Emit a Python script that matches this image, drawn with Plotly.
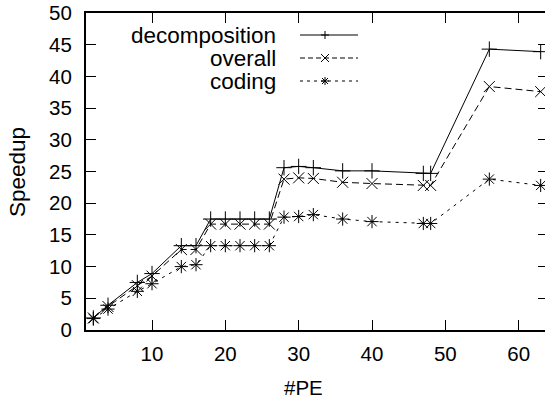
import plotly.graph_objects as go

pe = [2, 4, 8, 10, 14, 16, 18, 20, 22, 24, 26, 28, 30, 32, 36, 40, 47, 48, 56, 63]
decomposition = [1.9, 3.9, 7.5, 8.9, 13.3, 13.3, 17.5, 17.5, 17.5, 17.5, 17.5,
                 25.6, 25.8, 25.6, 25.1, 25.1, 24.7, 24.7, 44.3, 43.9]
overall = [1.9, 3.7, 7.0, 8.5, 12.7, 12.7, 16.7, 16.7, 16.7, 16.7, 16.7,
           23.8, 24.0, 23.9, 23.3, 23.1, 22.8, 22.8, 38.4, 37.6]
coding = [1.8, 3.3, 6.1, 7.3, 10.0, 10.3, 13.3, 13.3, 13.3, 13.3, 13.3,
          17.8, 17.9, 18.2, 17.5, 17.1, 16.8, 16.8, 23.8, 22.8]
series_names = ["decomposition", "overall", "coding"]
x_ticks = [10, 20, 30, 40, 50, 60]
y_ticks = [0, 5, 10, 15, 20, 25, 30, 35, 40, 45, 50]

W, H = 545, 400
L, R, T, B = 86, 0, 13, 70
PW, PH = W - L - R, H - T - B
FAMILY = "Liberation Sans, Arial, Helvetica, sans-serif"
FONT = dict(family=FAMILY, size=20.5, color="black")
TEXT_FONT = dict(family=FAMILY, size=22.5, color="black")


def px(x):
    return (x - L) / PW


def py(y):
    return (H - B - y) / PH


styles = [
    dict(dash="solid", key_dash="solid", symbol="cross-thin-open", size=11),
    dict(dash="7px,4px", key_dash="5px,3px", symbol="x-thin-open", size=11),
    dict(dash="3px,5px", key_dash="3px,4px", symbol="asterisk-open", size=11),
]

fig = go.Figure()
for name, vals, st in zip(series_names, [decomposition, overall, coding], styles):
    fig.add_trace(go.Scatter(
        x=pe, y=vals, name=name, mode="lines+markers",
        line=dict(color="black", width=1, dash=st["dash"]),
        marker=dict(symbol=st["symbol"], size=st["size"], color="black",
                    line=dict(color="black", width=1)),
        showlegend=False,
    ))

# dummy trace to get right-side mirror ticks without a border line
fig.add_trace(go.Scatter(x=[None], y=[None], yaxis="y2", showlegend=False, hoverinfo="skip"))

# gnuplot-style key: text on the left, sample on the right
rows_y = [35, 58, 81]
shapes = []
annotations = []
for name, st, ry in zip(series_names, styles, rows_y):
    annotations.append(dict(x=px(278), y=py(ry), xref="paper", yref="paper", text=name,
                            showarrow=False, xanchor="right", yanchor="middle", font=TEXT_FONT))
    shapes.append(dict(type="line", xref="paper", yref="paper",
                       x0=px(300), x1=px(358), y0=py(ry), y1=py(ry),
                       line=dict(color="black", width=1, dash=st["key_dash"])))
    cx, cy, s = 325, ry, 4
    if st["symbol"].startswith("cross"):
        segs = [((cx - s, cy), (cx + s, cy)), ((cx, cy - s), (cx, cy + s))]
    elif st["symbol"].startswith("x"):
        segs = [((cx - s, cy - s), (cx + s, cy + s)), ((cx - s, cy + s), (cx + s, cy - s))]
    else:
        d = s * 0.75
        segs = [((cx - s, cy), (cx + s, cy)), ((cx, cy - s), (cx, cy + s)),
                ((cx - d, cy - d), (cx + d, cy + d)), ((cx - d, cy + d), (cx + d, cy - d))]
    for (a, b) in segs:
        shapes.append(dict(type="line", xref="paper", yref="paper",
                           x0=px(a[0]), y0=py(a[1]), x1=px(b[0]), y1=py(b[1]),
                           line=dict(color="black", width=1)))

annotations.append(dict(x=px(303), y=py(387), xref="paper", yref="paper", text="#PE",
                        showarrow=False, xanchor="center", yanchor="middle", font=FONT))
annotations.append(dict(x=px(17), y=py(172), xref="paper", yref="paper", text="Speedup",
                        textangle=-90, showarrow=False, xanchor="center", yanchor="middle",
                        font=TEXT_FONT))

fig.update_layout(
    width=W, height=H,
    margin=dict(l=L, r=R, t=T, b=B, pad=0),
    paper_bgcolor="white", plot_bgcolor="white",
    font=FONT,
    showlegend=False,
    xaxis=dict(range=[1, 64 - 3 * 63 / (PW + 3)], tickvals=x_ticks, ticks="inside", ticklen=10,
               tickwidth=1, tickcolor="black", showline=True, linecolor="black", linewidth=2,
               mirror="ticks", showgrid=False, zeroline=False, tickfont=FONT,
               ticklabelstandoff=4),
    yaxis=dict(range=[0, 50], tickvals=y_ticks, ticks="inside", ticklen=10,
               tickwidth=1, tickcolor="black", showline=True, linecolor="black", linewidth=2,
               showgrid=False, zeroline=False, tickfont=FONT, ticklabelstandoff=8),
    yaxis2=dict(range=[0, 50], tickvals=y_ticks, overlaying="y", side="right",
                ticks="inside", ticklen=7, tickwidth=1, tickcolor="black",
                showline=False, showgrid=False, zeroline=False, showticklabels=False),
    shapes=shapes,
    annotations=annotations,
)

fig.write_html("out.html", config={"displayModeBar": False},
               post_script="document.body.style.margin='0';")
